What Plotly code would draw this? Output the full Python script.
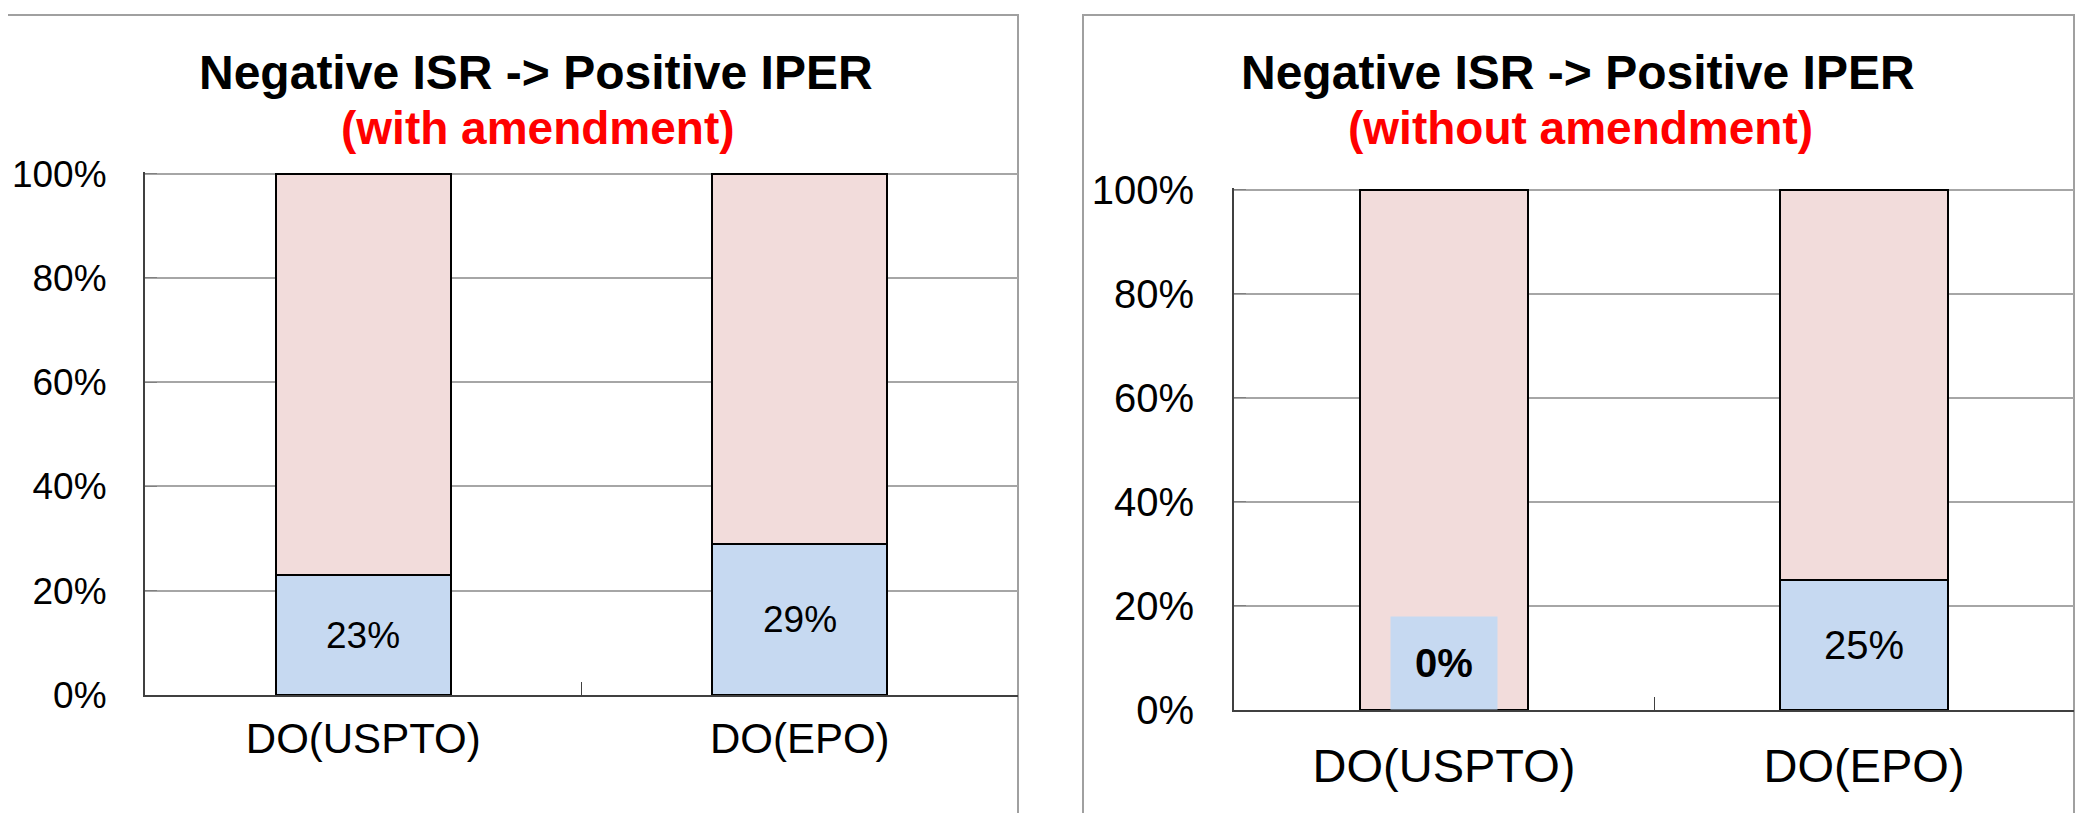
import plotly.graph_objects as go

categories = ["DO(USPTO)", "DO(EPO)"]
with_amend = [23, 29]
without_amend = [0, 25]
y_ticks = [0, 20, 40, 60, 80, 100]
y_tick_labels = ["0%", "20%", "40%", "60%", "80%", "100%"]
title_main = "Negative ISR -> Positive IPER"
sub_left = "(with amendment)"
sub_right = "(without amendment)"

W, H = 2087, 813
OFF = 8  # page body margin
BLUE = "#c6d9f1"
PINK = "#f2dcdb"
FONT = "Liberation Sans, Arial, sans-serif"

def px(x):
    return (x - OFF) / W

def py(y):
    return (H - (y - OFF)) / H

fig = go.Figure()

panels = [
    dict(vals=with_amend, xa="x", ya="y", lab=37),
    dict(vals=without_amend, xa="x2", ya="y2", lab=40),
]

for p in panels:
    rest = [100 - v for v in p["vals"]]
    fig.add_trace(go.Bar(x=categories, y=p["vals"], xaxis=p["xa"], yaxis=p["ya"],
                         marker=dict(color=BLUE, line=dict(color="black", width=2)),
                         name="Positive", showlegend=False, hoverinfo="skip"))
    fig.add_trace(go.Bar(x=categories, y=rest, xaxis=p["xa"], yaxis=p["ya"],
                         marker=dict(color=PINK, line=dict(color="black", width=2)),
                         name="Other", showlegend=False, hoverinfo="skip"))
    for c, v in zip(categories, p["vals"]):
        if v > 0:
            fig.add_annotation(x=c, y=v / 2, xref=p["xa"], yref=p["ya"], text=f"{v}%",
                               showarrow=False, font=dict(family=FONT, size=p["lab"], color="black"))
        else:
            fig.add_annotation(x=c, y=v, xref=p["xa"], yref=p["ya"], text=f"<b>{v}%</b>",
                               showarrow=False, yanchor="bottom", bgcolor=BLUE, borderpad=24,
                               font=dict(family=FONT, size=p["lab"], color="black"))

ax_common_y = dict(range=[0, 100.3], tickvals=y_ticks, ticktext=y_tick_labels, showgrid=True,
                   gridcolor="#a6a6a6", gridwidth=1.5, showline=True, linecolor="#404040",
                   linewidth=2, ticks="inside", ticklen=12, tickcolor="#808080", zeroline=False,
                   fixedrange=True, automargin=False)
ax_common_x = dict(showline=True, linecolor="#404040", linewidth=2, ticks="inside",
                   tickson="boundaries", ticklen=13, tickcolor="#404040", showgrid=False,
                   fixedrange=True, automargin=False)

fig.update_layout(
    template="none",
    width=W, height=H, margin=dict(l=0, r=0, t=0, b=0, pad=0, autoexpand=False),
    paper_bgcolor="white", plot_bgcolor="white", barmode="stack", bargap=0.6,
    showlegend=False,
    xaxis=dict(domain=[px(145), px(1018)], anchor="y", ticklabelstandoff=6,
               tickfont=dict(family=FONT, size=42, color="black"), **ax_common_x),
    yaxis=dict(domain=[py(695), py(172)], anchor="x", ticklabelstandoff=29,
               tickfont=dict(family=FONT, size=37, color="black"), **ax_common_y),
    xaxis2=dict(domain=[px(1234), px(2074)], anchor="y2", ticklabelstandoff=14,
                tickfont=dict(family=FONT, size=47, color="black"), **ax_common_x),
    yaxis2=dict(domain=[py(710), py(188)], anchor="x2", ticklabelstandoff=30,
                tickfont=dict(family=FONT, size=40, color="black"), **ax_common_y),
)

for x0, x1 in [(5, 1018), (1083, 2074)]:
    fig.add_shape(type="rect", xref="paper", yref="paper", x0=px(x0), x1=px(x1),
                  y0=-0.05, y1=py(15), line=dict(color="#a0a0a0", width=2), layer="below")

for cx, sub in [(536, sub_left), (1578, sub_right)]:
    fig.add_annotation(x=px(cx), y=py(72), xref="paper", yref="paper", text=title_main,
                       showarrow=False, xanchor="center", yanchor="middle",
                       font=dict(family=FONT, size=48, color="black", weight="bold"))
    fig.add_annotation(x=px(cx + 2), y=py(128), xref="paper", yref="paper", text=sub,
                       showarrow=False, xanchor="center", yanchor="middle",
                       font=dict(family=FONT, size=46, color="red", weight="bold"))

fig.write_html("out.html")
